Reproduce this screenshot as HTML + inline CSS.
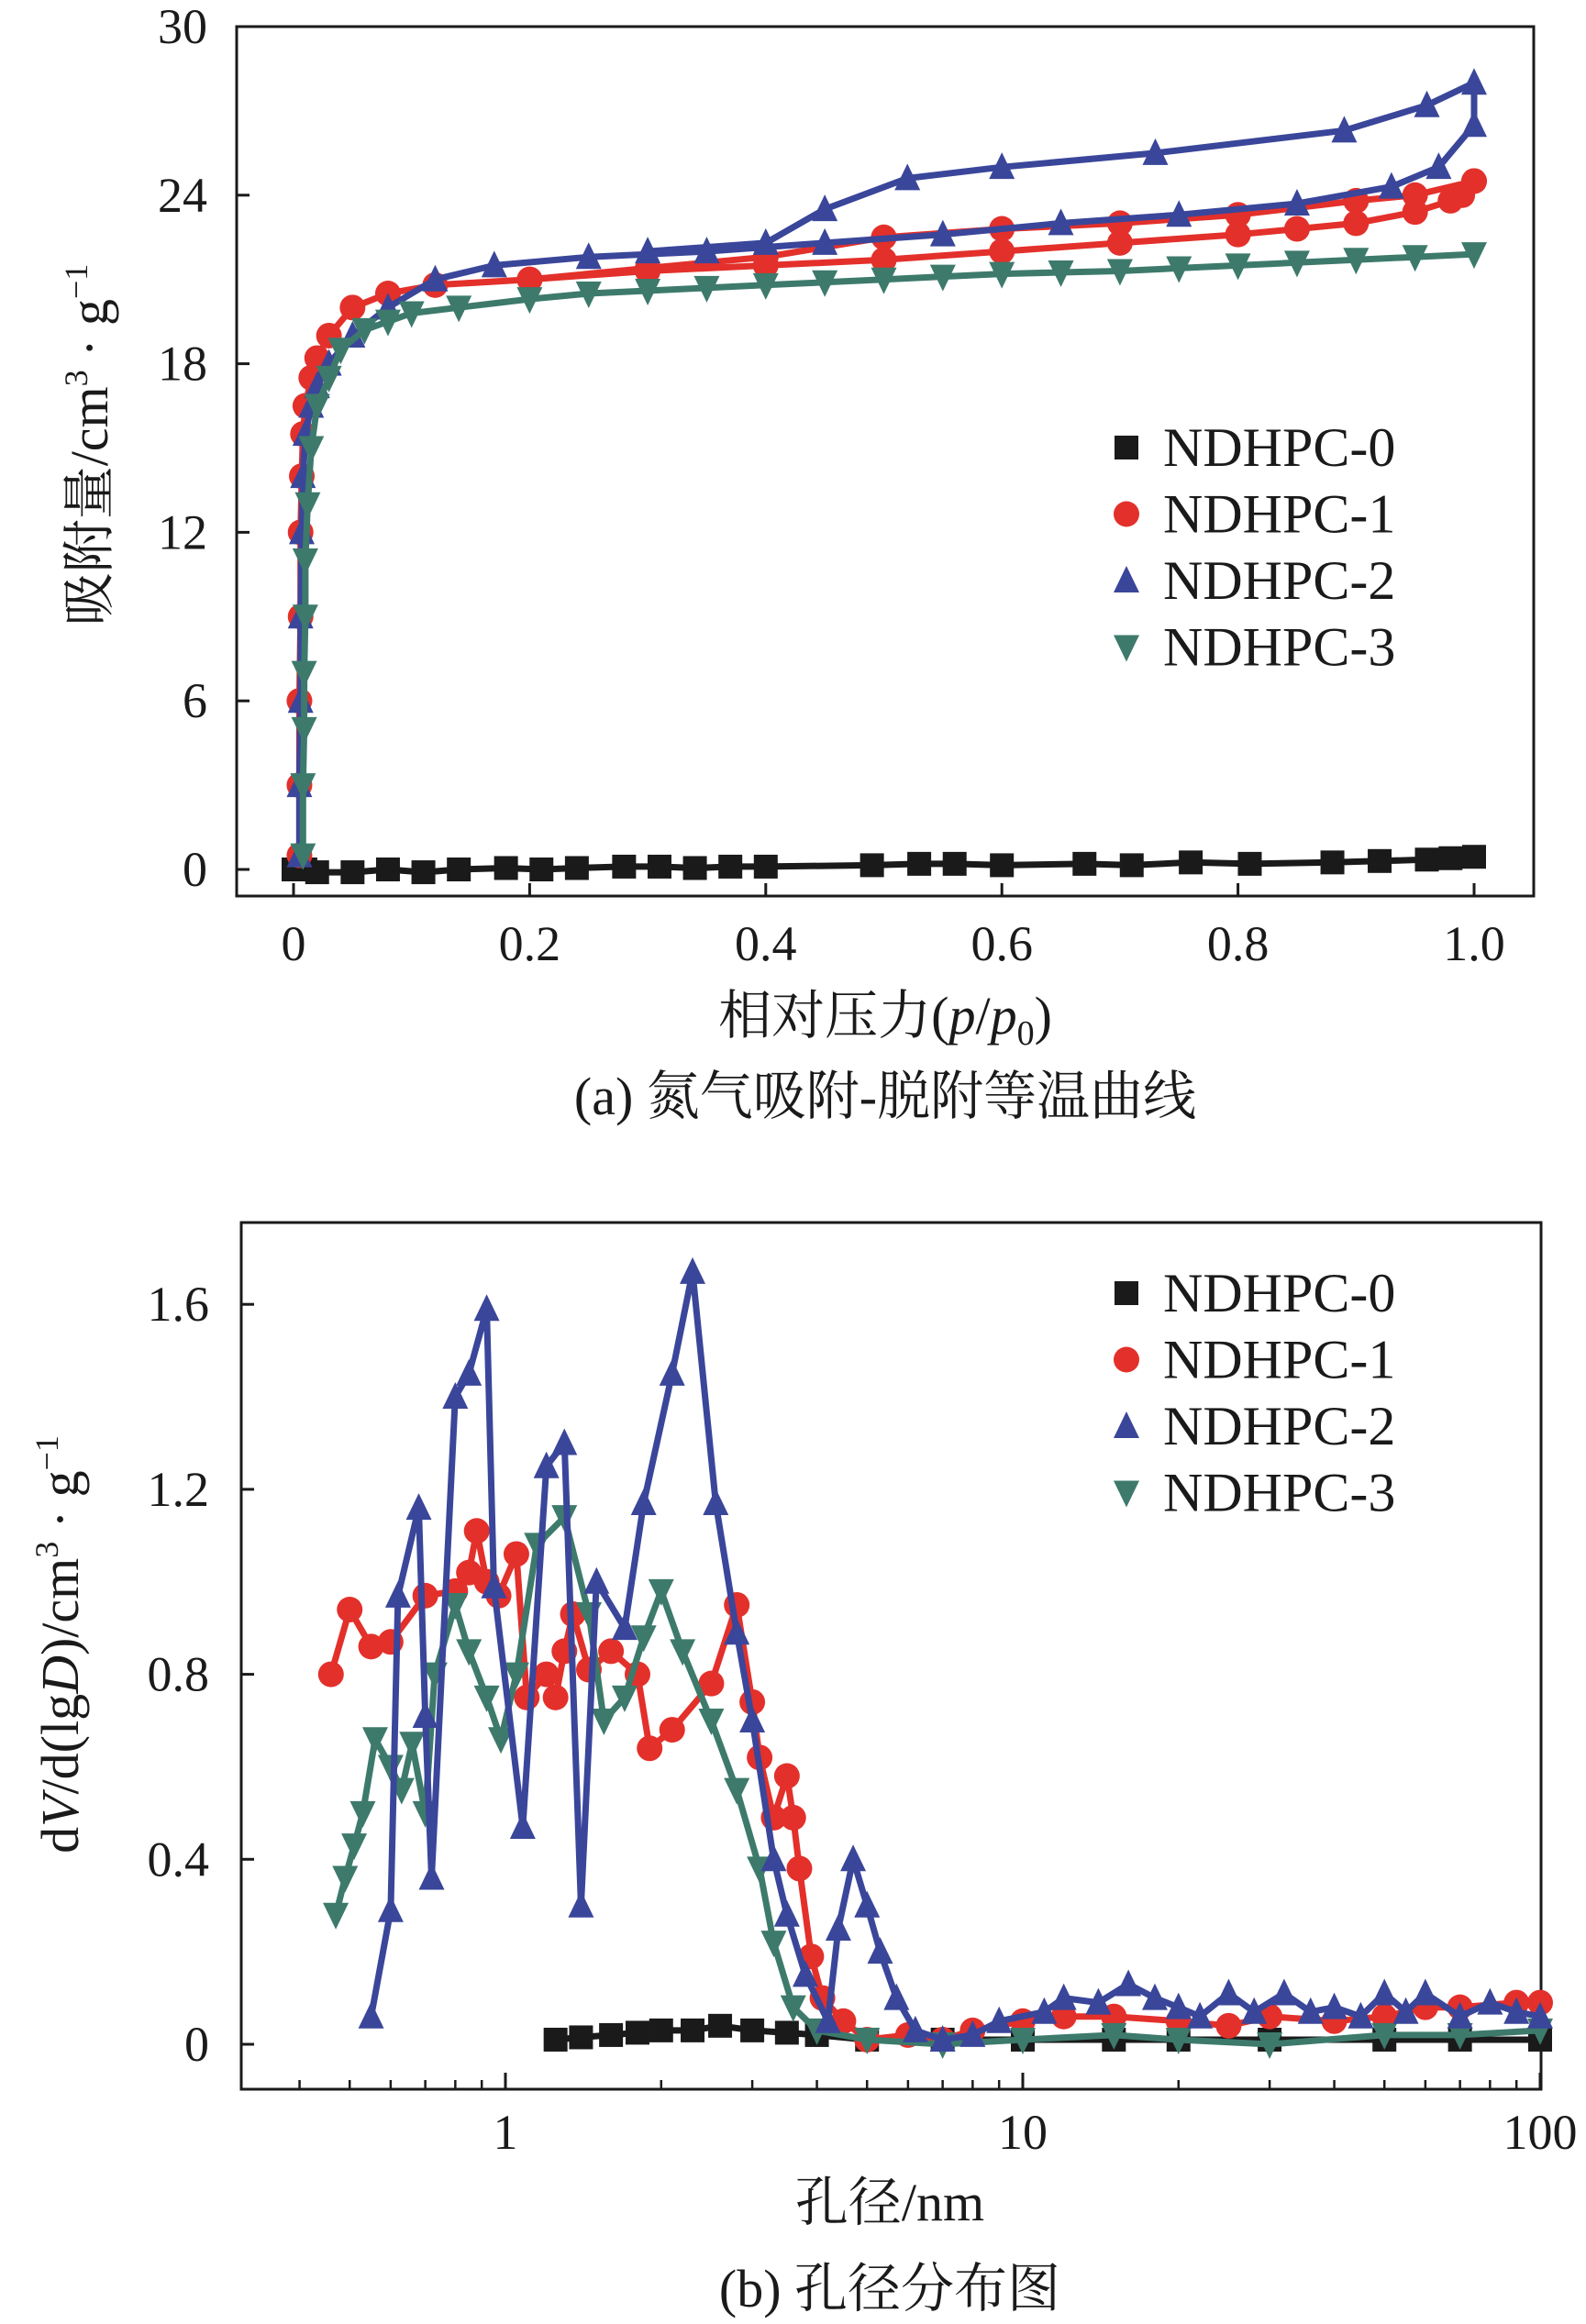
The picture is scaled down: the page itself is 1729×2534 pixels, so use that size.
<!DOCTYPE html>
<html><head><meta charset="utf-8">
<style>
html,body{margin:0;padding:0;background:#fff;}
svg{display:block;font-family:"Liberation Serif","Noto Serif CJK SC",serif;}
</style></head>
<body>
<svg id="fig" width="1729" height="2534" viewBox="0 0 1729 2534" xmlns="http://www.w3.org/2000/svg">
<g id="ga"></g>
<g id="gb"></g>
</svg>
<script>
// ---------- Chart A data ----------
const aXTicks = [0, 0.2, 0.4, 0.6, 0.8, 1.0];
const aXTickLabels = ["0", "0.2", "0.4", "0.6", "0.8", "1.0"];
const aYTicks = [0, 6, 12, 18, 24, 30];
const aYTickLabels = ["0", "6", "12", "18", "24", "30"];
const aNames = ["NDHPC-0", "NDHPC-1", "NDHPC-2", "NDHPC-3"];
const a0x = [0,0.01,0.02,0.05,0.08,0.11,0.14,0.18,0.21,0.24,0.28,0.31,0.34,0.37,0.40,0.49,0.53,0.56,0.60,0.67,0.71,0.76,0.81,0.88,0.92,0.96,0.98,1.0];
const a0y = [0,0,-0.1,-0.1,0,-0.1,0,0.05,0,0.05,0.1,0.1,0.05,0.1,0.1,0.15,0.2,0.2,0.15,0.2,0.15,0.25,0.2,0.25,0.3,0.35,0.4,0.45];
const a1x = [0.005,0.005,0.005,0.006,0.006,0.007,0.008,0.01,0.015,0.02,0.03,0.05,0.08,0.12,0.2,0.3,0.4,0.5,0.6,0.7,0.8,0.85,0.9,0.95,0.98,0.99,1.0,1.0,0.95,0.9,0.8,0.7,0.6,0.5,0.4,0.3,0.2];
const a1y = [0.5,3,6,9,12,14,15.5,16.5,17.5,18.2,19,20,20.5,20.8,21,21.3,21.5,21.7,22,22.3,22.6,22.8,23,23.4,23.8,24,24.5,24.5,24,23.8,23.3,23,22.8,22.5,21.8,21.4,21];
const a2x = [0.005,0.005,0.006,0.006,0.007,0.008,0.01,0.015,0.02,0.03,0.05,0.08,0.12,0.17,0.25,0.35,0.45,0.55,0.65,0.75,0.85,0.93,0.97,1.0,1.0,0.96,0.89,0.73,0.6,0.52,0.45,0.40,0.3];
const a2y = [0.5,3,6,9,12,14,15.5,16.5,17.2,18,19,20,21,21.5,21.8,22,22.3,22.6,23,23.3,23.7,24.3,25,26.5,28,27.2,26.3,25.5,25,24.6,23.5,22.3,22];
const a3x = [0.008,0.008,0.009,0.009,0.01,0.01,0.012,0.015,0.02,0.03,0.04,0.06,0.08,0.1,0.14,0.2,0.25,0.3,0.35,0.4,0.45,0.5,0.55,0.6,0.65,0.7,0.75,0.8,0.85,0.9,0.95,1.0];
const a3y = [0.5,3,5,7,9,11,13,15,16.5,17.5,18.5,19.2,19.5,19.8,20,20.3,20.5,20.6,20.7,20.8,20.9,21,21.1,21.2,21.25,21.3,21.4,21.5,21.6,21.7,21.8,21.9];

// ---------- Chart B data ----------
const bXTicks = [1, 10, 100];
const bXTickLabels = ["1", "10", "100"];
const bYTicks = [0, 0.4, 0.8, 1.2, 1.6];
const bYTickLabels = ["0", "0.4", "0.8", "1.2", "1.6"];
const b0x = [1.25,1.4,1.6,1.8,2,2.3,2.6,3,3.5,4,5,7,10,15,20,30,50,70,100];
const b0y = [0.01,0.015,0.02,0.025,0.03,0.03,0.04,0.03,0.025,0.02,0.01,0.01,0.01,0.01,0.01,0.01,0.01,0.01,0.01];
const b1x = [0.46,0.5,0.55,0.6,0.7,0.8,0.85,0.88,0.92,0.97,1.05,1.1,1.2,1.25,1.3,1.35,1.45,1.6,1.8,1.9,2.1,2.5,2.8,3.0,3.1,3.3,3.5,3.6,3.7,3.9,4.1,4.5,5,6,7,8,10,12,15,20,25,30,40,50,60,70,90,100];
const b1y = [0.80,0.94,0.86,0.87,0.97,0.98,1.02,1.11,1.00,0.97,1.06,0.75,0.80,0.75,0.85,0.93,0.81,0.85,0.80,0.64,0.68,0.78,0.95,0.74,0.62,0.49,0.58,0.49,0.38,0.19,0.10,0.05,0.01,0.02,0.01,0.03,0.05,0.06,0.06,0.05,0.04,0.06,0.05,0.06,0.08,0.08,0.09,0.09];
const b2x = [0.55,0.6,0.62,0.68,0.70,0.72,0.80,0.85,0.92,0.95,1.08,1.2,1.3,1.4,1.5,1.7,1.85,2.1,2.3,2.55,2.8,3.0,3.3,3.5,3.8,4.2,4.4,4.7,5.0,5.3,5.7,6.2,7,8,9,11,12,14,16,18,20,22,25,28,32,36,40,45,50,55,60,70,80,90,100];
const b2y = [0.06,0.29,0.97,1.16,0.71,0.36,1.40,1.45,1.59,0.99,0.47,1.25,1.30,0.30,1.00,0.90,1.17,1.45,1.67,1.17,0.89,0.70,0.40,0.28,0.15,0.05,0.25,0.40,0.30,0.20,0.10,0.03,0.01,0.02,0.05,0.07,0.10,0.09,0.13,0.10,0.08,0.06,0.11,0.07,0.11,0.07,0.08,0.06,0.11,0.07,0.11,0.06,0.09,0.07,0.06];
const b3x = [0.47,0.49,0.51,0.53,0.56,0.6,0.63,0.66,0.7,0.73,0.8,0.85,0.92,0.98,1.05,1.15,1.3,1.45,1.55,1.7,1.85,2.0,2.2,2.5,2.8,3.1,3.3,3.6,4,5,7,10,15,20,30,50,70,100];
const b3y = [0.28,0.36,0.43,0.50,0.66,0.60,0.55,0.65,0.50,0.80,0.95,0.85,0.75,0.66,0.80,1.08,1.14,0.93,0.70,0.75,0.88,0.98,0.85,0.70,0.55,0.38,0.22,0.08,0.03,0.01,0.0,0.01,0.02,0.01,0.0,0.02,0.02,0.03];

const NS = "http://www.w3.org/2000/svg";
const COLORS = ["#1a1a1a", "#e3302b", "#3a469a", "#3d7a6c"];
function mk(tag, attrs, parent){const e=document.createElementNS(NS,tag);for(const k in attrs)e.setAttribute(k,attrs[k]);parent.appendChild(e);return e;}
function marker(g,type,x,y,c){
  let e;
  const s=14;
  if(type===0) e=mk("rect",{x:x-s+1,y:y-s+1,width:2*s-2,height:2*s-2,fill:c},g);
  else if(type===1) e=mk("circle",{cx:x,cy:y,r:s,fill:c},g);
  else if(type===2) e=mk("polygon",{points:`${x},${y-s-2} ${x-s},${y+s-1} ${x+s},${y+s-1}`,fill:c},g);
  else e=mk("polygon",{points:`${x},${y+s+2} ${x-s},${y-s+1} ${x+s},${y-s+1}`,fill:c},g);
  return e;
}
function series(g,xs,ys,fx,fy,type,name){
  const sg=mk("g",{},g);
  
  
  const pts=xs.map((x,i)=>fx(x).toFixed(1)+","+fy(ys[i]).toFixed(1)).join(" ");
  mk("polyline",{points:pts,fill:"none",stroke:COLORS[type],"stroke-width":7,"stroke-linejoin":"round"},sg);
  xs.forEach((x,i)=>{
    const m=marker(sg,type,fx(x),fy(ys[i]),COLORS[type]);
    
    
  });
}
function legend(g,x,y0,dy){
  aNames.forEach((n,i)=>{
    const lg=mk("g",{},g);
    
    
    marker(lg,i,x,y0+i*dy,COLORS[i]);
    const t=mk("text",{x:x+40,y:y0+i*dy+20,"font-size":60,fill:"#1a1a1a"},lg);
    t.textContent=n;
  });
}

// ---------- Draw Chart A ----------
(function(){
  const g=document.getElementById("ga");
  const L=258,R=1672,T=29,B=977;
  const fx=v=>320+(1607-320)*v;
  const fy=v=>948-(948-29)*v/30;
  const box=mk("rect",{x:L,y:T,width:R-L,height:B-T,fill:"none",stroke:"#1a1a1a","stroke-width":3},g);
  
  
  aXTicks.forEach((v,i)=>{
    mk("line",{x1:fx(v),x2:fx(v),y1:B,y2:B-14,stroke:"#1a1a1a","stroke-width":3},g);
    const t=mk("text",{x:fx(v),y:1047,"font-size":54,"text-anchor":"middle",fill:"#1a1a1a"},g);
    t.textContent=aXTickLabels[i];
    
    
  });
  aYTicks.forEach((v,i)=>{
    mk("line",{x1:L,x2:L+14,y1:fy(v),y2:fy(v),stroke:"#1a1a1a","stroke-width":3},g);
    const t=mk("text",{x:226,y:fy(v)+18,"font-size":54,"text-anchor":"end",fill:"#1a1a1a"},g);
    t.textContent=aYTickLabels[i];
    
    
  });
  series(g,a0x,a0y,fx,fy,0,aNames[0]);
  series(g,a1x,a1y,fx,fy,1,aNames[1]);
  series(g,a2x,a2y,fx,fy,2,aNames[2]);
  series(g,a3x,a3y,fx,fy,3,aNames[3]);
  legend(g,1228,488,72.5);
  const yt=mk("text",{transform:"translate(117,485) rotate(-90)","font-size":58,"text-anchor":"middle",fill:"#1a1a1a"},g);
  yt.innerHTML='吸附量/cm<tspan dy="-22" font-size="36">3</tspan><tspan dy="22"> · g</tspan><tspan dy="-22" font-size="36">−1</tspan>';
  
  
  const xt=mk("text",{x:965,y:1127,"font-size":58,"text-anchor":"middle",fill:"#1a1a1a"},g);
  xt.innerHTML='相对压力(<tspan font-style="italic">p</tspan>/<tspan font-style="italic">p</tspan><tspan dy="12" font-size="38">0</tspan><tspan dy="-12">)</tspan>';
  
  
  const cap=mk("text",{x:965,y:1215,"font-size":58,"text-anchor":"middle",fill:"#1a1a1a"},g);
  cap.textContent="(a) 氮气吸附-脱附等温曲线";
  
  
})();

// ---------- Draw Chart B ----------
(function(){
  const g=document.getElementById("gb");
  const L=263,R=1680,T=1333,B=2278;
  const fx=v=>551+(1115-551)*Math.log10(v);
  const fy=v=>2229-201.7*v/0.4;
  const box=mk("rect",{x:L,y:T,width:R-L,height:B-T,fill:"none",stroke:"#1a1a1a","stroke-width":3},g);
  
  
  for(let d=0.1; d<100; d*=10){
    for(let k=2;k<=9;k++){
      const v=d*k; const px=fx(v);
      if(px<L||px>R) continue;
      mk("line",{x1:px,x2:px,y1:B,y2:B-10,stroke:"#1a1a1a","stroke-width":2.5},g);
    }
  }
  bXTicks.forEach((v,i)=>{
    mk("line",{x1:fx(v),x2:fx(v),y1:B,y2:B-18,stroke:"#1a1a1a","stroke-width":3},g);
    const t=mk("text",{x:fx(v),y:2343,"font-size":54,"text-anchor":"middle",fill:"#1a1a1a"},g);
    t.textContent=bXTickLabels[i];
    
    
  });
  bYTicks.forEach((v,i)=>{
    mk("line",{x1:L,x2:L+14,y1:fy(v),y2:fy(v),stroke:"#1a1a1a","stroke-width":3},g);
    const t=mk("text",{x:228,y:fy(v)+18,"font-size":54,"text-anchor":"end",fill:"#1a1a1a"},g);
    t.textContent=bYTickLabels[i];
    
    
  });
  series(g,b0x,b0y,fx,fy,0,aNames[0]);
  series(g,b1x,b1y,fx,fy,1,aNames[1]);
  series(g,b3x,b3y,fx,fy,3,aNames[3]);
  series(g,b2x,b2y,fx,fy,2,aNames[2]);
  legend(g,1228,1410,72.5);
  const yt=mk("text",{transform:"translate(85,1793) rotate(-90)","font-size":58,"text-anchor":"middle",fill:"#1a1a1a"},g);
  yt.innerHTML='d<tspan font-style="italic">V</tspan>/d(lg<tspan font-style="italic">D</tspan>)/cm<tspan dy="-22" font-size="36">3</tspan><tspan dy="22"> · g</tspan><tspan dy="-22" font-size="36">−1</tspan>';
  
  
  const xt=mk("text",{x:970,y:2421,"font-size":58,"text-anchor":"middle",fill:"#1a1a1a"},g);
  xt.textContent="孔径/nm";
  
  
  const cap=mk("text",{x:970,y:2515,"font-size":58,"text-anchor":"middle",fill:"#1a1a1a"},g);
  cap.textContent="(b) 孔径分布图";
  
  
})();
</script>
</body></html>
